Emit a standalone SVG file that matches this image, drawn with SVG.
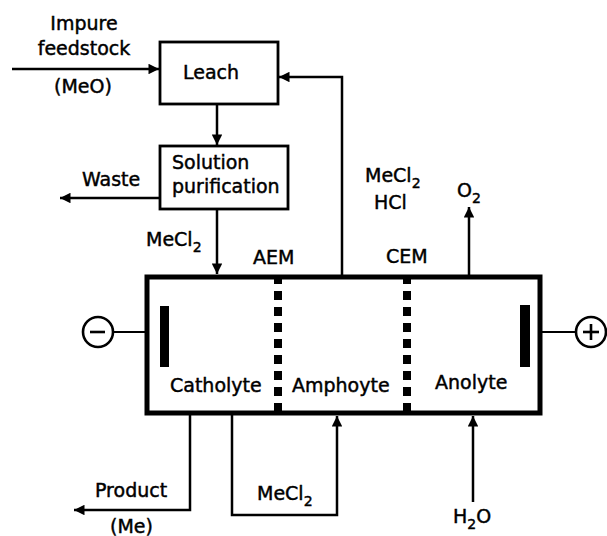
<svg xmlns="http://www.w3.org/2000/svg" width="607" height="536" viewBox="0 0 607 536">
<style>
text{font-family:"DejaVu Sans","Liberation Sans",sans-serif;font-size:19px;fill:#000;stroke:#000;stroke-width:0.45}
.sub{font-size:14px}
.ln{fill:none;stroke:#000;stroke-width:2.5}
.box{fill:#fff;stroke:#000;stroke-width:2.8}
.mem{fill:none;stroke:#000;stroke-width:8;stroke-dasharray:9 7}
</style>
<defs>
<marker id="ah" viewBox="0 0 10 10" refX="10" refY="5" markerWidth="4.6" markerHeight="4.2" markerUnits="strokeWidth" orient="auto">
<path d="M0,0 L10,5 L0,10 z" fill="#000"/>
</marker>
</defs>
<rect width="607" height="536" fill="#fff"/>
<g id="connectors">
<line class="ln" x1="12" y1="69" x2="159" y2="69" marker-end="url(#ah)"/>
<polyline class="ln" points="342,276 342,77 279,77" marker-end="url(#ah)"/>
<line class="ln" x1="217" y1="104" x2="217" y2="145" marker-end="url(#ah)"/>
<line class="ln" x1="160" y1="198" x2="60" y2="198" marker-end="url(#ah)"/>
<line class="ln" x1="217" y1="209" x2="217" y2="274" marker-end="url(#ah)"/>
<line class="ln" x1="469" y1="276" x2="469" y2="207" marker-end="url(#ah)"/>
<polyline class="ln" points="190,414 190,510 74,510" marker-end="url(#ah)"/>
<polyline class="ln" points="232,414 232,515 337,515 337,416" marker-end="url(#ah)"/>
<line class="ln" x1="473" y1="502" x2="473" y2="416" marker-end="url(#ah)"/>
<line class="ln" x1="113" y1="332" x2="160" y2="332" style="stroke-width:2"/>
<line class="ln" x1="530" y1="332" x2="576" y2="332" style="stroke-width:2"/>
</g>
<g id="leach">
<rect class="box" x="160" y="42" width="118" height="62"/>
<text x="183" y="79">Leach</text>
</g>
<g id="purification">
<rect class="box" x="160" y="146" width="128" height="63"/>
<text x="172" y="169">Solution</text>
<text x="172" y="193">purification</text>
</g>
<g id="cell">
<rect x="147" y="277" width="393" height="136" fill="#fff" stroke="#000" stroke-width="5"/>
<line class="mem" x1="278" y1="275" x2="278" y2="415"/>
<line class="mem" x1="407" y1="275" x2="407" y2="415"/>
<rect x="160" y="306" width="9" height="61" fill="#000"/>
<rect x="520" y="305" width="10" height="62" fill="#000"/>
<text x="170" y="392">Catholyte</text>
<text x="292" y="392">Amphoyte</text>
<text x="435" y="389">Anolyte</text>
</g>
<g id="cathode-terminal">
<circle cx="98" cy="332" r="15" fill="#fff" stroke="#000" stroke-width="2.6"/>
<line x1="90" y1="332" x2="105" y2="332" stroke="#000" stroke-width="2.6"/>
</g>
<g id="anode-terminal">
<circle cx="591" cy="332" r="15" fill="#fff" stroke="#000" stroke-width="2.6"/>
<line x1="583" y1="332" x2="599" y2="332" stroke="#000" stroke-width="2.6"/>
<line x1="591" y1="324" x2="591" y2="340" stroke="#000" stroke-width="2.6"/>
</g>
<g id="labels">
<text x="84" y="30" text-anchor="middle">Impure</text>
<text x="84" y="55" text-anchor="middle">feedstock</text>
<text x="83" y="93" text-anchor="middle">(MeO)</text>
<text x="82" y="186">Waste</text>
<text x="146" y="246">MeCl<tspan class="sub" dy="6">2</tspan></text>
<text x="253" y="264">AEM</text>
<text x="365" y="182">MeCl<tspan class="sub" dy="6">2</tspan></text>
<text x="374" y="209">HCl</text>
<text x="386" y="263">CEM</text>
<text x="457" y="197">O<tspan class="sub" dy="6">2</tspan></text>
<text x="95" y="497">Product</text>
<text x="110" y="533">(Me)</text>
<text x="257" y="500">MeCl<tspan class="sub" dy="6">2</tspan></text>
<text x="453" y="523">H<tspan class="sub" dy="6">2</tspan><tspan dy="-6">O</tspan></text>
</g>
</svg>
